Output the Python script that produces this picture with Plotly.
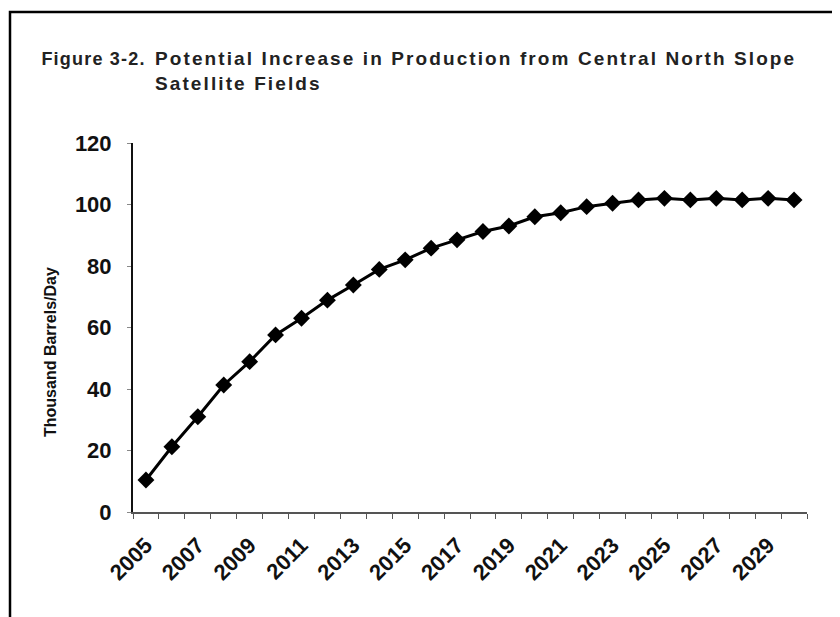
import plotly.graph_objects as go

years = [2005, 2006, 2007, 2008, 2009, 2010, 2011, 2012, 2013, 2014, 2015, 2016, 2017,
         2018, 2019, 2020, 2021, 2022, 2023, 2024, 2025, 2026, 2027, 2028, 2029, 2030]
production = [10.4, 21.2, 31.0, 41.3, 48.9, 57.6, 63.0, 68.9, 73.8, 78.9, 82.0, 85.8, 88.5,
              91.2, 93.0, 96.0, 97.3, 99.3, 100.4, 101.5, 102.0, 101.5, 102.0, 101.5, 102.0, 101.5]
label_years = [2005, 2007, 2009, 2011, 2013, 2015, 2017, 2019, 2021, 2023, 2025, 2027, 2029]
y_ticks = [0, 20, 40, 60, 80, 100, 120]

title_prefix = "Figure 3-2."
title_text = "Potential Increase in Production from Central North Slope<br>Satellite Fields"
y_title = "Thousand Barrels/Day"

W, H = 840, 617
OFF = 8  # page body margin
L, R, T, B = 125, 41, 135, 113
pw, ph = W - L - R, H - T - B


def px(x):
    # x given in window pixels
    return (x - OFF - L) / pw


def py(y):
    return (H - B - (y - OFF)) / ph


fig = go.Figure()
fig.add_trace(go.Scatter(
    x=years, y=production, mode="lines+markers",
    line=dict(color="black", width=3),
    marker=dict(symbol="diamond", size=13, color="black"),
    showlegend=False,
))

font_family = "Liberation Sans, Arial, sans-serif"

fig.update_layout(
    width=W, height=H,
    margin=dict(l=L, r=R, t=T, b=B),
    paper_bgcolor="white", plot_bgcolor="white",
    font=dict(family=font_family, color="#111111"),
    xaxis=dict(
        range=[2004.5, 2030.5],
        tickmode="array", tickvals=label_years, ticktext=[str(v) for v in label_years],
        tickangle=-45, ticks="", showgrid=False, zeroline=False,
        showline=True, linecolor="#555555", linewidth=1.5,
        tickfont=dict(size=22, family=font_family, weight="bold", color="#111111"),
        ticklabelstandoff=10,
        minor=dict(ticks="outside", ticklen=5, tickcolor="#555555", tickwidth=1,
                   tick0=2004.5, dtick=1, showgrid=False),
    ),
    yaxis=dict(
        range=[0, 120], tickmode="array", tickvals=y_ticks,
        ticks="outside", ticklen=4, tickcolor="#888888",
        showgrid=False, zeroline=False,
        showline=True, linecolor="#111111", linewidth=2,
        tickfont=dict(size=22, family=font_family, weight="bold", color="#111111"),
        ticklabelstandoff=11,
    ),
    annotations=[
        dict(text="<b>" + title_prefix + "</b>", xref="paper", yref="paper",
             x=px(46), y=py(59), xanchor="left", yanchor="middle", showarrow=False,
             font=dict(size=18, family=font_family, color="#222222")),
        dict(text="<b>" + title_text + "</b>", xref="paper", yref="paper",
             x=px(153), y=py(71), xanchor="left", yanchor="middle", showarrow=False,
             align="left", font=dict(size=19, family=font_family, color="#222222")),
        dict(text="<b>" + y_title + "</b>", xref="paper", yref="paper",
             x=px(50), y=py(352), xanchor="center", yanchor="middle", showarrow=False,
             textangle=-90, font=dict(size=16, family=font_family, color="#111111")),
    ],
    shapes=[
        dict(type="rect", xref="paper", yref="paper",
             x0=px(10), x1=px(870), y0=py(660), y1=py(12),
             line=dict(color="black", width=2.5), fillcolor="rgba(0,0,0,0)"),
    ],
)

post = """
var gd = document.getElementById('{plot_id}');
function spaceTitle() {
  var a0 = gd.querySelector('.annotation[data-index="0"] text');
  var a1 = gd.querySelector('.annotation[data-index="1"] text');
  if (a0) a0.style.letterSpacing = '1.2px';
  if (a1) a1.style.letterSpacing = '2.1px';
}
spaceTitle();
gd.on('plotly_afterplot', spaceTitle);
"""

fig.write_html("out.html", post_script=post)
